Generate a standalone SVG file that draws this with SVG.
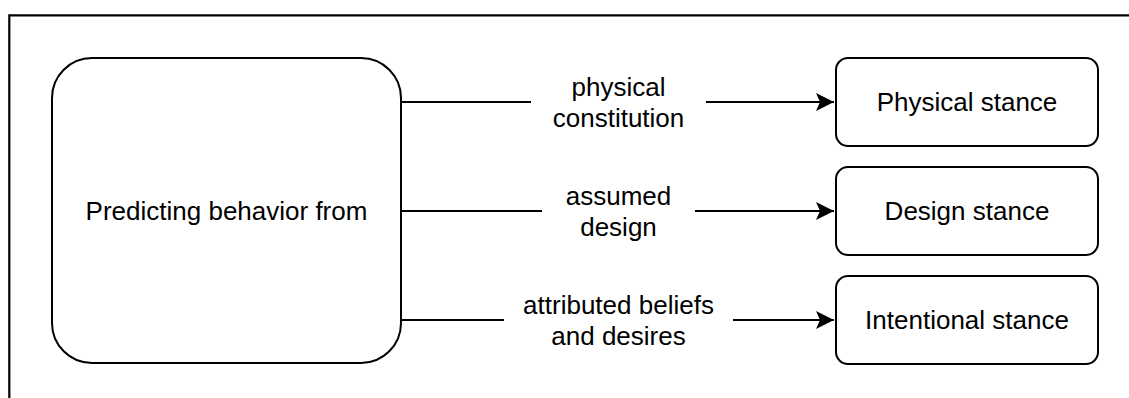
<svg xmlns="http://www.w3.org/2000/svg" width="1129" height="398" viewBox="0 0 1129 398">
  <defs>
    <style>
      .node { fill: #ffffff; stroke: #000000; stroke-width: 2; }
      .lbl { font-family: "Liberation Sans", Arial, Helvetica, sans-serif; font-size: 26px; fill: #000000; text-anchor: middle; }
      .edge { fill: none; stroke: #000000; stroke-width: 2; }
      .frame { fill: none; stroke: #000000; stroke-width: 2.2; }
      .lblbg { fill: #ffffff; stroke: none; }
    </style>
    <marker id="arrow" viewBox="0 0 20 20" refX="18" refY="10" markerWidth="20" markerHeight="20" markerUnits="userSpaceOnUse" orient="auto">
      <path d="M0,1 L18,10 L0,19 L4,10 Z" fill="#000000"/>
    </marker>
  </defs>
  <rect x="0" y="0" width="1129" height="398" fill="#ffffff"/>
  <g id="frame">
    <path class="frame" d="M9.3,398 L9.3,15.3 L1129,15.3"/>
  </g>
  <g id="connectors">
    <path class="edge" d="M401,102 L834,102" marker-end="url(#arrow)"/>
    <path class="edge" d="M401,211 L834,211" marker-end="url(#arrow)"/>
    <path class="edge" d="M401,320 L834,320" marker-end="url(#arrow)"/>
    <rect class="lblbg" x="531" y="72" width="175" height="62"/>
    <text class="lbl" x="618.5" y="95.5">physical</text>
    <text class="lbl" x="618.5" y="126.5">constitution</text>
    <rect class="lblbg" x="542" y="181" width="153" height="62"/>
    <text class="lbl" x="618.5" y="204.5">assumed</text>
    <text class="lbl" x="618.5" y="235.5">design</text>
    <rect class="lblbg" x="504" y="290" width="229" height="62"/>
    <text class="lbl" x="618.5" y="313.5">attributed beliefs</text>
    <text class="lbl" x="618.5" y="344.5">and desires</text>
  </g>
  <g id="predicting">
    <rect class="node" x="52" y="58" width="349" height="305" rx="40" ry="40"/>
    <text class="lbl" x="226.5" y="220">Predicting behavior from</text>
  </g>
  <g id="physical-stance">
    <rect class="node" x="836" y="58" width="262" height="88" rx="12" ry="12"/>
    <text class="lbl" x="967" y="111">Physical stance</text>
  </g>
  <g id="design-stance">
    <rect class="node" x="836" y="167" width="262" height="88" rx="12" ry="12"/>
    <text class="lbl" x="967" y="220">Design stance</text>
  </g>
  <g id="intentional-stance">
    <rect class="node" x="836" y="276" width="262" height="88" rx="12" ry="12"/>
    <text class="lbl" x="967" y="329">Intentional stance</text>
  </g>
</svg>
